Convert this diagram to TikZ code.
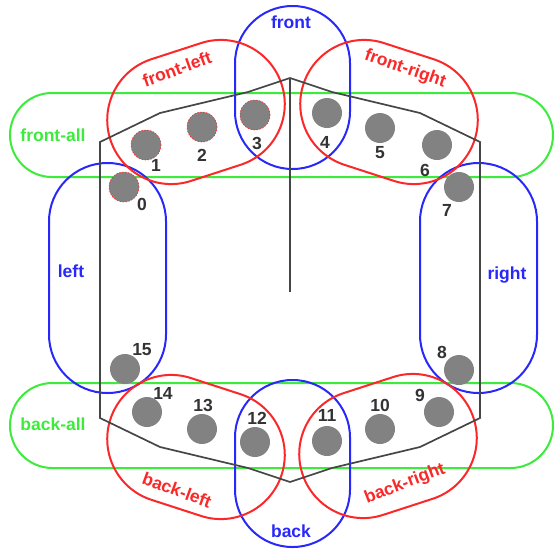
\documentclass[tikz,border=0pt]{standalone}
\usepackage{fontspec}
\setmainfont{Liberation Sans}
\definecolor{zred}{RGB}{250,40,40}
\definecolor{zgreen}{RGB}{60,235,60}
\definecolor{zblue}{RGB}{40,40,250}
\definecolor{hull}{RGB}{70,70,70}
\definecolor{sensorfill}{RGB}{130,130,130}
\begin{document}
\begin{tikzpicture}[x=1pt,y=-1pt,
  ring/.style={line width=2pt},
  redring/.style={ring,draw=zred},
  greenring/.style={ring,draw=zgreen},
  bluering/.style={ring,draw=zblue},
  hullline/.style={draw=hull,line width=1.7pt,line join=miter},
  sensor/.style={circle,fill=sensorfill,minimum size=30pt,inner sep=0pt},
  marked/.style={sensor,draw=zred,dash pattern=on 1.5pt off 1.5pt,line width=0.6pt},
  lbl/.style={font=\fontsize{17.5}{18}\selectfont\bfseries,inner sep=0pt},
  num/.style={lbl,text=black!80}]
\useasboundingbox (0,0) rectangle (554,550);
\fill[white] (0,0) rectangle (554,550);

% green groups: whole front and whole back rows
\draw[greenring,rounded corners=41.9] (10,93) rectangle (553,177);
\draw[greenring,rounded corners=42.4] (10,383) rectangle (553,468);

% blue groups: front, back, left, right
\draw[bluering,rounded corners=57.4] (235,6) rectangle (350,169);
\draw[bluering,rounded corners=57.4] (235,380) rectangle (350,547);
\draw[bluering,rounded corners=58.4] (49,163) rectangle (166,393);
\draw[bluering,rounded corners=58.4] (420,163) rectangle (537,393);

% red groups: the four corners
\draw[redring,shift={(196,112)},rotate=18,rounded corners=63.9] (-90,-64) rectangle (90,64);
\draw[redring,shift={(389,112)},rotate=-18,rounded corners=63.9] (-90,-64) rectangle (90,64);
\draw[redring,shift={(196,447)},rotate=-18,rounded corners=63.9] (-90,-64) rectangle (90,64);
\draw[redring,shift={(388,446)},rotate=18,rounded corners=63.9] (-90,-64) rectangle (90,64);

% robot hull and heading line
\draw[hullline] (100,142) -- (160,113) -- (248,92) -- (290,78) -- (332,92) -- (420,113)
  -- (480,142) -- (480,418) -- (420,447) -- (332,468) -- (290,482) -- (248,468)
  -- (160,447) -- (100,418) -- cycle;
\coordinate (apex) at (290,78);
\coordinate (hub) at (290,292);
\draw[hullline] (apex) -- (hub);

% sonar sensors
\node[marked] (s0) at (124,187) {};
\node[marked] (s1) at (146,145) {};
\node[marked] (s2) at (202,127) {};
\node[marked] (s3) at (255,115) {};
\node[sensor] (s4) at (327,113) {};
\node[sensor] (s5) at (380,128) {};
\node[sensor] (s6) at (437,145) {};
\node[sensor] (s7) at (459,187) {};
\node[sensor] (s8) at (459,370) {};
\node[sensor] (s9) at (439,412) {};
\node[sensor] (s10) at (380,429) {};
\node[sensor] (s11) at (327,441) {};
\node[sensor] (s12) at (255,442) {};
\node[sensor] (s13) at (202,429) {};
\node[sensor] (s14) at (147,412) {};
\node[sensor] (s15) at (125,369) {};

% sensor numbers
\node[num] (n0) at (142,204) {0};
\node[num] (n1) at (156,165) {1};
\node[num] (n2) at (202,155) {2};
\node[num] (n3) at (257,143) {3};
\node[num] (n4) at (325,142) {4};
\node[num] (n5) at (380,153) {5};
\node[num] (n6) at (425,170) {6};
\node[num] (n7) at (447,210) {7};
\node[num] (n8) at (442,352) {8};
\node[num] (n9) at (420,395) {9};
\node[num] (n10) at (380,405) {10};
\node[num] (n11) at (327,415) {11};
\node[num] (n12) at (257,418) {12};
\node[num] (n13) at (203,405) {13};
\node[num] (n14) at (163,393) {14};
\node[num] (n15) at (142,350) {15};

% group names
\node[lbl,text=zblue] (tfront) at (291,22) {front};
\node[lbl,text=zblue] (tback) at (291,531) {back};
\node[lbl,text=zblue] (tleft) at (71,271) {left};
\node[lbl,text=zblue] (tright) at (507,275) {right};
\node[lbl,text=zgreen] (tfrontall) at (53,135) {front-all};
\node[lbl,text=zgreen] (tbackall) at (53,424) {back-all};
\node[lbl,text=zred,rotate=20] (tfl) at (177,69) {front-left};
\node[lbl,text=zred,rotate=-19] (tfr) at (405,69) {front-right};
\node[lbl,text=zred,rotate=-20] (tbl) at (177,490) {back-left};
\node[lbl,text=zred,rotate=21] (tbr) at (405,484) {back-right};
\end{tikzpicture}
\end{document}
